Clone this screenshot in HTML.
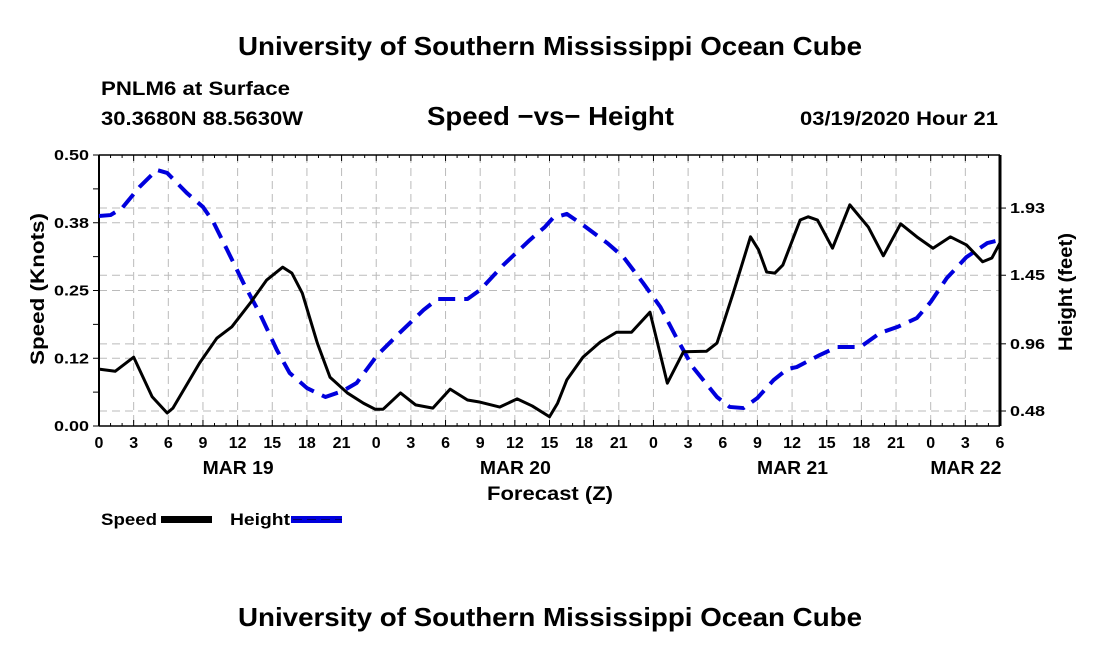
<!DOCTYPE html>
<html><head><meta charset="utf-8"><style>
body{margin:0;background:#fff;}
svg text{font-family:"Liberation Sans",Arial,sans-serif;font-weight:bold;fill:#000;}
</style></head><body>
<svg id="chart" width="1100" height="650" viewBox="0 0 1100 650" xmlns="http://www.w3.org/2000/svg">
<text x="238" y="55" font-size="26" textLength="624" lengthAdjust="spacingAndGlyphs">University of Southern Mississippi Ocean Cube</text>
<text x="101" y="95" font-size="19" textLength="189" lengthAdjust="spacingAndGlyphs">PNLM6 at Surface</text>
<text x="101" y="125" font-size="19" textLength="202" lengthAdjust="spacingAndGlyphs">30.3680N 88.5630W</text>
<text x="427" y="125" font-size="26" textLength="247" lengthAdjust="spacingAndGlyphs">Speed −vs− Height</text>
<text x="800" y="125" font-size="19" textLength="198" lengthAdjust="spacingAndGlyphs">03/19/2020 Hour 21</text>
<g id="grid"></g>
<g id="axes"></g>
<g id="series"></g>
<text transform="translate(44,289) rotate(-90)" font-size="19" text-anchor="middle" textLength="152" lengthAdjust="spacingAndGlyphs">Speed (Knots)</text>
<text transform="translate(1072,292) rotate(-90)" font-size="19" text-anchor="middle" textLength="118" lengthAdjust="spacingAndGlyphs">Height (feet)</text>
<text x="487" y="500" font-size="19" textLength="126" lengthAdjust="spacingAndGlyphs">Forecast (Z)</text>
<g>
<text x="101" y="525" font-size="17" textLength="56" lengthAdjust="spacingAndGlyphs">Speed</text>
<rect x="161" y="516" width="51" height="7" fill="#000"/>
</g>
<g>
<text x="230" y="525" font-size="17" textLength="60" lengthAdjust="spacingAndGlyphs">Height</text>
<rect x="291" y="516" width="51" height="7" fill="#0000dd"/>
<line x1="293" y1="519.5" x2="342" y2="519.5" stroke="#000" stroke-width="1" stroke-dasharray="9,5" opacity="0.5"/>
</g>
<text x="238" y="626" font-size="26" textLength="624" lengthAdjust="spacingAndGlyphs">University of Southern Mississippi Ocean Cube</text>
</svg>
<script>
const speedHours=[0,1.4,3,4.6,5.9,6.4,8.7,10.2,11.5,13.1,14.5,15.9,16.7,17.6,18.9,20,21.5,22.9,23.9,24.6,26.1,27.4,28.9,30.4,31.9,33,34.7,36.2,37.5,39,39.7,40.5,41.9,43.4,44.8,46.1,47.7,49.2,50.6,52.6,53.5,54.9,56.4,57.1,57.8,58.5,59.2,60.7,61.4,62.2,63.5,65,66.6,67.9,69.4,70.8,72.2,73.7,75.1,76.5,77.3,78];
const speedValues=[0.105,0.101,0.127,0.054,0.024,0.033,0.116,0.162,0.183,0.227,0.269,0.293,0.282,0.245,0.153,0.090,0.061,0.042,0.031,0.031,0.061,0.039,0.033,0.068,0.048,0.044,0.035,0.050,0.037,0.017,0.042,0.085,0.127,0.155,0.173,0.173,0.210,0.079,0.137,0.138,0.153,0.245,0.349,0.325,0.284,0.282,0.297,0.380,0.386,0.380,0.328,0.408,0.367,0.314,0.373,0.349,0.328,0.349,0.334,0.303,0.310,0.338];
const heightHours=[0,1,2,3.5,5,5.9,7.6,9,9.9,11.1,12.5,13.9,15.4,16.5,18,19.6,21.1,22.3,24.1,26.1,28.1,29.3,31.9,33,35,37.3,38.6,39.3,40.5,41.9,44,45.4,47.1,48.6,50,51.4,53.5,54.6,55.8,57,58.4,59.6,60.4,62.4,63.9,65.9,67.6,69.1,70.8,72,73.4,75.1,76.9,78];
const heightValues=[1.873,1.880,1.930,2.080,2.202,2.181,2.038,1.938,1.830,1.630,1.395,1.180,0.916,0.752,0.644,0.580,0.623,0.680,0.880,1.044,1.202,1.280,1.280,1.345,1.523,1.702,1.795,1.859,1.888,1.809,1.680,1.580,1.395,1.223,1.002,0.794,0.580,0.509,0.501,0.573,0.701,0.780,0.794,0.880,0.937,0.937,1.037,1.080,1.144,1.259,1.430,1.580,1.680,1.702];
const leftTicks=[0,0.125,0.25,0.375,0.5];
const leftTickLabels=["0.00","0.12","0.25","0.38","0.50"];
const rightTicks=[0.48,0.96,1.45,1.93];
const rightTickLabels=["0.48","0.96","1.45","1.93"];
const xTickLabels=["0","3","6","9","12","15","18","21","0","3","6","9","12","15","18","21","0","3","6","9","12","15","18","21","0","3","6"];
const dayLabels=["MAR 19","MAR 20","MAR 21","MAR 22"];
const dayLabelHours=[12,36,60,75];

const X0=99,X1=1000,Y0=426,Y1=155,HMAX=78;
const xs=h=>X0+(X1-X0)*h/HMAX;
const ys=v=>Y0-(Y0-Y1)*v/0.5;
const yh=f=>411-(f-0.48)/0.483*67.6;
const NS="http://www.w3.org/2000/svg";
function mk(tag,attrs,parent,txt){const e=document.createElementNS(NS,tag);for(const k in attrs)e.setAttribute(k,attrs[k]);if(txt!==undefined)e.textContent=txt;parent.appendChild(e);return e;}
const grid=document.getElementById('grid'),axes=document.getElementById('axes'),series=document.getElementById('series');
const gs={stroke:'#bbb','stroke-width':1,'stroke-dasharray':'8,5'};
for(let i=1;i<xTickLabels.length-1;i++){const x=xs(i*3);const l=mk('line',Object.assign({x1:x,x2:x,y1:Y1,y2:Y0},gs),grid);

}
leftTicks.slice(1,4).forEach(v=>{const l=mk('line',Object.assign({x1:X0,x2:X1,y1:ys(v),y2:ys(v)},gs),grid);

});
rightTicks.forEach(f=>{const l=mk('line',Object.assign({x1:X0,x2:X1,y1:yh(f),y2:yh(f)},gs),grid);

});
mk('line',{x1:X0,x2:X0,y1:Y1,y2:Y0,stroke:'#000','stroke-width':2},axes);
mk('line',{x1:X1,x2:X1,y1:Y1,y2:Y0,stroke:'#000','stroke-width':3},axes);
mk('line',{x1:X0,x2:X1,y1:Y1,y2:Y1,stroke:'#000','stroke-width':1.5},axes);
mk('line',{x1:X0,x2:X1,y1:Y0,y2:Y0,stroke:'#000','stroke-width':1.5},axes);
for(let h=0;h<=HMAX;h++){const x=xs(h);const len=h%3===0?6:3;
mk('line',{x1:x,x2:x,y1:Y0,y2:Y0-len,stroke:'#000','stroke-width':1},axes);
mk('line',{x1:x,x2:x,y1:Y1,y2:Y1+len,stroke:'#000','stroke-width':1},axes);}
xTickLabels.forEach((t,i)=>{const e=mk('text',{x:xs(i*3),y:Y0+22,'font-size':16,'text-anchor':'middle'},axes,t);

});
dayLabels.forEach((t,i)=>{const e=mk('text',{x:xs(dayLabelHours[i])-35,y:Y0+48,'font-size':18,textLength:71,lengthAdjust:'spacingAndGlyphs'},axes,t);

});
for(let v=0;v<=0.5001;v+=0.0625){mk('line',{x1:X0-6,x2:X0,y1:ys(v),y2:ys(v),stroke:'#000','stroke-width':1},axes);}
leftTicks.forEach((v,i)=>{const e=mk('text',{x:X0-45,y:ys(v)+5,'font-size':15,textLength:35,lengthAdjust:'spacingAndGlyphs'},axes,leftTickLabels[i]);

});
rightTicks.forEach((f,i)=>{mk('line',{x1:X1,x2:X1+6,y1:yh(f),y2:yh(f),stroke:'#000','stroke-width':1},axes);
const e=mk('text',{x:X1+10,y:yh(f)+5,'font-size':15,textLength:35,lengthAdjust:'spacingAndGlyphs'},axes,rightTickLabels[i]);

});
const hp=mk('polyline',{points:heightHours.map((h,i)=>xs(h)+','+yh(heightValues[i])).join(' '),fill:'none',stroke:'#0000dd','stroke-width':4,'stroke-dasharray':'17,9','stroke-linejoin':'round'},series);


const sp=mk('polyline',{points:speedHours.map((h,i)=>xs(h)+','+ys(speedValues[i])).join(' '),fill:'none',stroke:'#000','stroke-width':3,'stroke-linejoin':'round'},series);


</script>
</body></html>
